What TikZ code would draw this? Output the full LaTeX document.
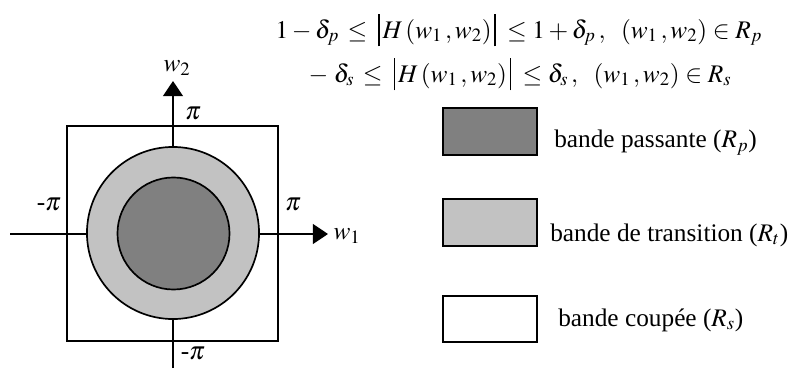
\documentclass[tikz,border=0pt]{standalone}
\usepackage{amsmath,amssymb}
\usepackage{mathptmx}
\usepackage{fontspec}
\setmainfont{Liberation Serif}
\usepackage{tikz}
\usetikzlibrary{arrows.meta, positioning}
\definecolor{passe}{gray}{0.5}
\definecolor{transi}{gray}{0.76}
\newcommand{\barreg}{\;\mathopen{\rule[-0.33em]{0.055em}{1.3em}}\,}
\newcommand{\barred}{\,\mathclose{\rule[-0.33em]{0.055em}{1.3em}}\;}

\begin{document}
\begin{tikzpicture}[x=0.025cm, y=-0.025cm,
  legbox/.style={draw, line width=1.3pt, minimum width=2.35cm, minimum height=1.17cm, inner sep=0pt},
  legtxt/.style={anchor=west, inner sep=0pt, font=\fontsize{18}{22}\selectfont},
  lbl/.style={inner sep=0pt, font=\fontsize{18}{22}\selectfont},
  axe/.style={-{Triangle[length=0.38cm, width=0.5cm]}, line width=1.2pt}
]
\useasboundingbox (0,0) rectangle (792,369);

% plan frequentiel
\coordinate (w1a) at (10,234);
\coordinate (w1b) at (328,234);
\coordinate (w2a) at (173,368);
\coordinate (w2b) at (173,81);
\draw[axe] (w1a) -- (w1b);
\draw[axe] (w2a) -- (w2b);
\node[draw, line width=1.2pt, minimum width=5.275cm, minimum height=5.375cm] (carre) at (172.5,233.5) {};
\node[circle, draw, line width=1.2pt, fill=transi, minimum size=4.3cm] (trans) at (173,233) {};
\node[circle, draw, line width=1.2pt, fill=passe, minimum size=2.8cm] (pass) at (173.5,233.5) {};

\node[lbl] (lw2) at (177,68) {$w_2$};
\node[lbl] (lw1) at (347,236) {$w_1$};
\node[lbl] (pih) at (193,113) {$\pi$};
\node[lbl] (pid) at (293,204) {$\pi$};
\node[lbl] (pig) at (49,204) {-$\pi$};
\node[lbl] (pib) at (193,353) {-$\pi$};

% conditions
\node[lbl] (eqp) at (519,30) {$1-\delta_p\, \le \barreg H\,(w_1\,,w_2)\barred \le 1+\delta_p\,,\ \ (w_1\,,w_2)\in R_p$};
\node[lbl] (eqs) at (520,74) {$-\;\delta_s\, \le \barreg H\,(w_1\,,w_2)\barred \le \delta_s\,,\ \ (w_1\,,w_2)\in R_s$};

% legende
\node[legbox, fill=passe] (bp) at (490,131.5) {};
\node[legbox, fill=transi] (bt) at (490,222.5) {};
\node[legbox, fill=white] (bc) at (490,319) {};
\node[legtxt] (tp) at (554,143) {bande passante ($R_p$)};
\node[legtxt] (tt) at (550,235) {bande de transition ($R_t$)};
\node[legtxt] (tc) at (558,320) {bande coupée ($R_s$)};
\end{tikzpicture}
\end{document}
